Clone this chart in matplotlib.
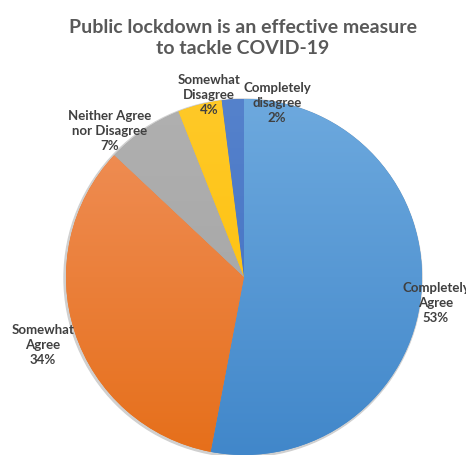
import matplotlib

matplotlib.use("Agg")
import matplotlib.pyplot as plt
import numpy as np
from matplotlib.colors import LinearSegmentedColormap

# data
categories = ["Completely\nAgree", "Somewhat\nAgree", "Neither Agree\nnor Disagree",
              "Somewhat\nDisagree", "Completely\ndisagree"]
shares = [53, 34, 7, 4, 2]
# light (top) -> dark (bottom) gradient per slice
top_colors = ["#6DA9DE", "#F0915C", "#B0B0B0", "#FFC928", "#5582CC"]
bottom_colors = ["#4187CA", "#E66F1A", "#A2A2A2", "#FDBE00", "#3F6CC0"]

TITLE = "Public lockdown is an effective measure\nto tackle COVID-19"
# label anchor points in pixel space (x from left, y from top)
label_xy = [(436, 303), (43, 345), (110, 131), (209, 95), (277, 103)]

W, H = 466, 456
CX, CY, R = 244, 278, 178

fig = plt.figure(figsize=(W / 100, H / 100), dpi=100)
ax = fig.add_axes([0, 0, 1, 1])

wedges, _ = ax.pie(shares, startangle=90, counterclock=False,
                   center=(CX, H - CY), radius=R,
                   wedgeprops=dict(linewidth=0))

# soft shadow under the pie
shadow = plt.Circle((CX - 1, H - CY - 1), R + 1, color="#D0D0D0", zorder=0.5)
ax.add_patch(shadow)

grad = np.linspace(0, 1, 256).reshape(-1, 1)
for w, c0, c1 in zip(wedges, top_colors, bottom_colors):
    w.set_facecolor(c1)
    cmap = LinearSegmentedColormap.from_list("g", [c0, c1])
    im = ax.imshow(grad, cmap=cmap, aspect="auto",
                   extent=(CX - R, CX + R, H - CY - R, H - CY + R),
                   origin="upper", zorder=2)
    im.set_clip_path(w)

for (lx, ly), cat, v in zip(label_xy, categories, shares):
    ax.text(lx, H - ly, f"{cat}\n{v}%", ha="center", va="center",
            fontsize=9.5, fontweight="bold", color="#404040",
            family=["Lato", "DejaVu Sans"], linespacing=1.35, zorder=5)

ax.text(243, H - 38, TITLE, ha="center", va="center", fontsize=14,
        fontweight="bold", color="#595959", family=["Lato", "DejaVu Sans"],
        linespacing=1.25)

ax.set_xlim(0, W)
ax.set_ylim(0, H)
ax.set_aspect("auto")
ax.axis("off")

fig.savefig("out.png", dpi=100)
